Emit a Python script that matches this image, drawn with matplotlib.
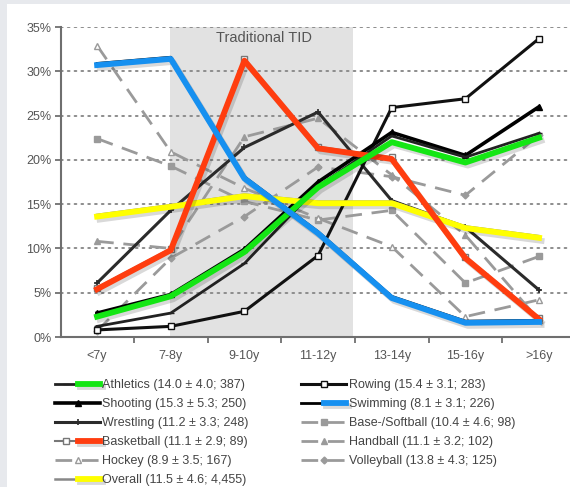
import matplotlib
matplotlib.use("Agg")
import matplotlib.pyplot as plt
from matplotlib.patches import Rectangle
from matplotlib.legend_handler import HandlerTuple
import matplotlib.patheffects as pe
from matplotlib.transforms import offset_copy

plt.rcParams['font.family'] = ['Liberation Sans', 'DejaVu Sans']

# ---------------- data (percent of athletes by age at sport start) -------------
categories = ['<7y', '7-8y', '9-10y', '11-12y', '13-14y', '15-16y', '>16y']

athletics = [2.3, 4.6, 9.6, 16.9, 22.0, 19.7, 22.5]          # green highlight
athletics_line = [1.2, 2.7, 8.3, 17.0, 22.7, 20.3, 23.0]     # underlying black line
shooting = [2.7, 4.8, 9.9, 17.5, 23.1, 20.5, 26.0]
wrestling = [6.1, 14.3, 21.4, 25.4, 15.4, 12.4, 5.3]
basketball = [5.4, 9.8, 31.2, 21.3, 20.1, 8.9, 2.0]
hockey = [32.9, 20.9, 16.8, 13.4, 10.2, 2.3, 4.2]
overall = [13.6, 14.7, 15.9, 15.1, 15.1, 12.3, 11.2]
rowing = [0.8, 1.2, 2.9, 9.2, 25.9, 26.9, 33.7]
swimming = [30.7, 31.4, 17.9, 11.7, 4.4, 1.6, 1.7]
base_softball = [22.4, 19.3, 15.3, 13.2, 14.3, 6.1, 9.1]
handball = [10.8, 10.0, 22.6, 24.7, 18.3, 11.5, 1.9]
volleyball = [0.7, 8.9, 13.6, 19.2, 18.1, 16.0, 22.8]

labels = {
    'athletics': 'Athletics (14.0 ± 4.0; 387)',
    'shooting': 'Shooting (15.3 ± 5.3; 250)',
    'wrestling': 'Wrestling (11.2 ± 3.3; 248)',
    'basketball': 'Basketball (11.1 ± 2.9; 89)',
    'hockey': 'Hockey (8.9 ± 3.5; 167)',
    'overall': 'Overall (11.5 ± 4.6; 4,455)',
    'rowing': 'Rowing (15.4 ± 3.1; 283)',
    'swimming': 'Swimming (8.1 ± 3.1; 226)',
    'base': 'Base-/Softball (10.4 ± 4.6; 98)',
    'handball': 'Handball (11.1 ± 3.2; 102)',
    'volleyball': 'Volleyball (13.8 ± 4.3; 125)',
}
y_ticks = [0, 5, 10, 15, 20, 25, 30, 35]
tid_span = (0.99, 3.47)
tid_label = 'Traditional TID'

# ---------------- figure ----------------
W, H = 570, 487
fig = plt.figure(figsize=(W / 100, H / 100), dpi=100)
fig.patch.set_facecolor('#e7e9ed')
fig.add_artist(Rectangle((7 / W, 0), 1, (H - 4) / H, transform=fig.transFigure,
                         facecolor='white', edgecolor='none', zorder=-10))

ax = fig.add_axes([61 / W, (H - 337) / H, (W - 61) / W, 310 / H])
ax.set_facecolor('none')
x = list(range(len(categories)))
ax.set_xlim(-0.49, 6.42)
ax.set_ylim(0, 35)

# shaded TID region
ax.axvspan(*tid_span, facecolor='#e2e2e2', edgecolor='none', zorder=0.2)
ax.text(2.27, 33.8, tid_label, ha='center', va='center', fontsize=10.5, color='#555555', zorder=1)

# grid
for v in y_ticks[1:]:
    ax.axhline(v, color='#8c8c8c', lw=1.4, ls=(0, (0.9, 2.6)), dash_capstyle='round', zorder=0.5)

grey = '#9a9a9a'
dash = (0, (6, 3.5))
shadow = [pe.SimpleLineShadow(offset=(1.8, -2.2), shadow_color='k', alpha=0.15), pe.Normal()]
up = offset_copy(ax.transData, fig=fig, x=0, y=1.2, units='points')

# dashed grey lines
h_base, = ax.plot(x, base_softball, color=grey, lw=2, ls=dash, marker='s', ms=4.5, zorder=2)
h_hand, = ax.plot(x, handball, color=grey, lw=2, ls=dash, marker='^', ms=4.5, zorder=2)
h_volley, = ax.plot(x, volleyball, color=grey, lw=2, ls=dash, marker='D', ms=3.5, zorder=2)
h_hockey, = ax.plot(x, hockey, color=grey, lw=2, ls=dash, marker='^', ms=5, mfc='white', mew=1, zorder=2)

# dark solid lines
h_wrest, = ax.plot(x, wrestling, color='#2b2b2b', lw=2.2, marker='+', ms=4, mew=1.2, zorder=3)
h_row, = ax.plot(x, rowing, color='#111111', lw=2.2, marker='s', ms=5, mfc='white', mew=1, zorder=3)
h_shoot, = ax.plot(x, shooting, color='#000000', lw=2.6, marker='^', ms=4.5, zorder=3)
h_ath_line, = ax.plot(x, athletics_line, color='#222222', lw=2, marker='_', ms=5, zorder=3)
h_swim_line, = ax.plot(x, swimming, color='#000000', lw=2, transform=up, zorder=3)
h_bask_line, = ax.plot(x, basketball, color='#777777', lw=1.5, marker='s', ms=5, mfc='white',
                       mew=1, transform=up, zorder=3)
h_over_line, = ax.plot(x, overall, color='#888888', lw=1.8, transform=up, zorder=3)

# coloured highlight lines
h_over, = ax.plot(x, overall, color='#ffff00', lw=4.2, zorder=4, path_effects=shadow, solid_joinstyle='round')
h_bask, = ax.plot(x, basketball, color='#ff3d0f', lw=4.2, zorder=5, path_effects=shadow, solid_joinstyle='round')
h_ath, = ax.plot(x, athletics, color='#14e614', lw=4.2, zorder=6, path_effects=shadow, solid_joinstyle='round')
h_swim, = ax.plot(x, swimming, color='#1690f0', lw=4.2, zorder=7, path_effects=shadow, solid_joinstyle='round')

# axes styling
for s in ['top', 'right']:
    ax.spines[s].set_visible(False)
for s in ['left', 'bottom']:
    ax.spines[s].set_color('#6f6f6f')
    ax.spines[s].set_linewidth(1.5)
ax.set_yticks(y_ticks)
ax.set_yticklabels([f'{v}%' for v in y_ticks], fontsize=9, color='#555555')
ax.tick_params(axis='y', length=4, width=1.3, color='#6f6f6f', pad=3)
ax.set_xticks([i + 0.5 for i in x[:-1]])
ax.set_xticklabels([])
ax.tick_params(axis='x', which='major', length=4, width=1.3, color='#6f6f6f')
ax.set_xticks(x, minor=True)
ax.set_xticklabels(categories, minor=True, fontsize=9, color='#555555')
ax.tick_params(axis='x', which='minor', length=0, pad=9)

# legend
leg_handles = [
    (h_ath_line, h_ath), h_shoot, h_wrest, (h_bask_line, h_bask), h_hockey, (h_over_line, h_over),
    h_row, (h_swim_line, h_swim), h_base, h_hand, h_volley,
]
leg_labels = [labels[k] for k in ['athletics', 'shooting', 'wrestling', 'basketball', 'hockey', 'overall',
                                  'rowing', 'swimming', 'base', 'handball', 'volleyball']]
leg = fig.legend(leg_handles, leg_labels, ncol=2, loc='upper left',
                 bbox_to_anchor=(55 / W, (H - 379) / H), frameon=False, fontsize=9,
                 handlelength=3.6, handletextpad=0.2, columnspacing=4.2, labelspacing=0.56,
                 borderpad=0, borderaxespad=0,
                 handler_map={tuple: HandlerTuple(ndivide=None)})
for t in leg.get_texts():
    t.set_color('#444444')

fig.savefig('out.png', dpi=100, facecolor=fig.get_facecolor())
